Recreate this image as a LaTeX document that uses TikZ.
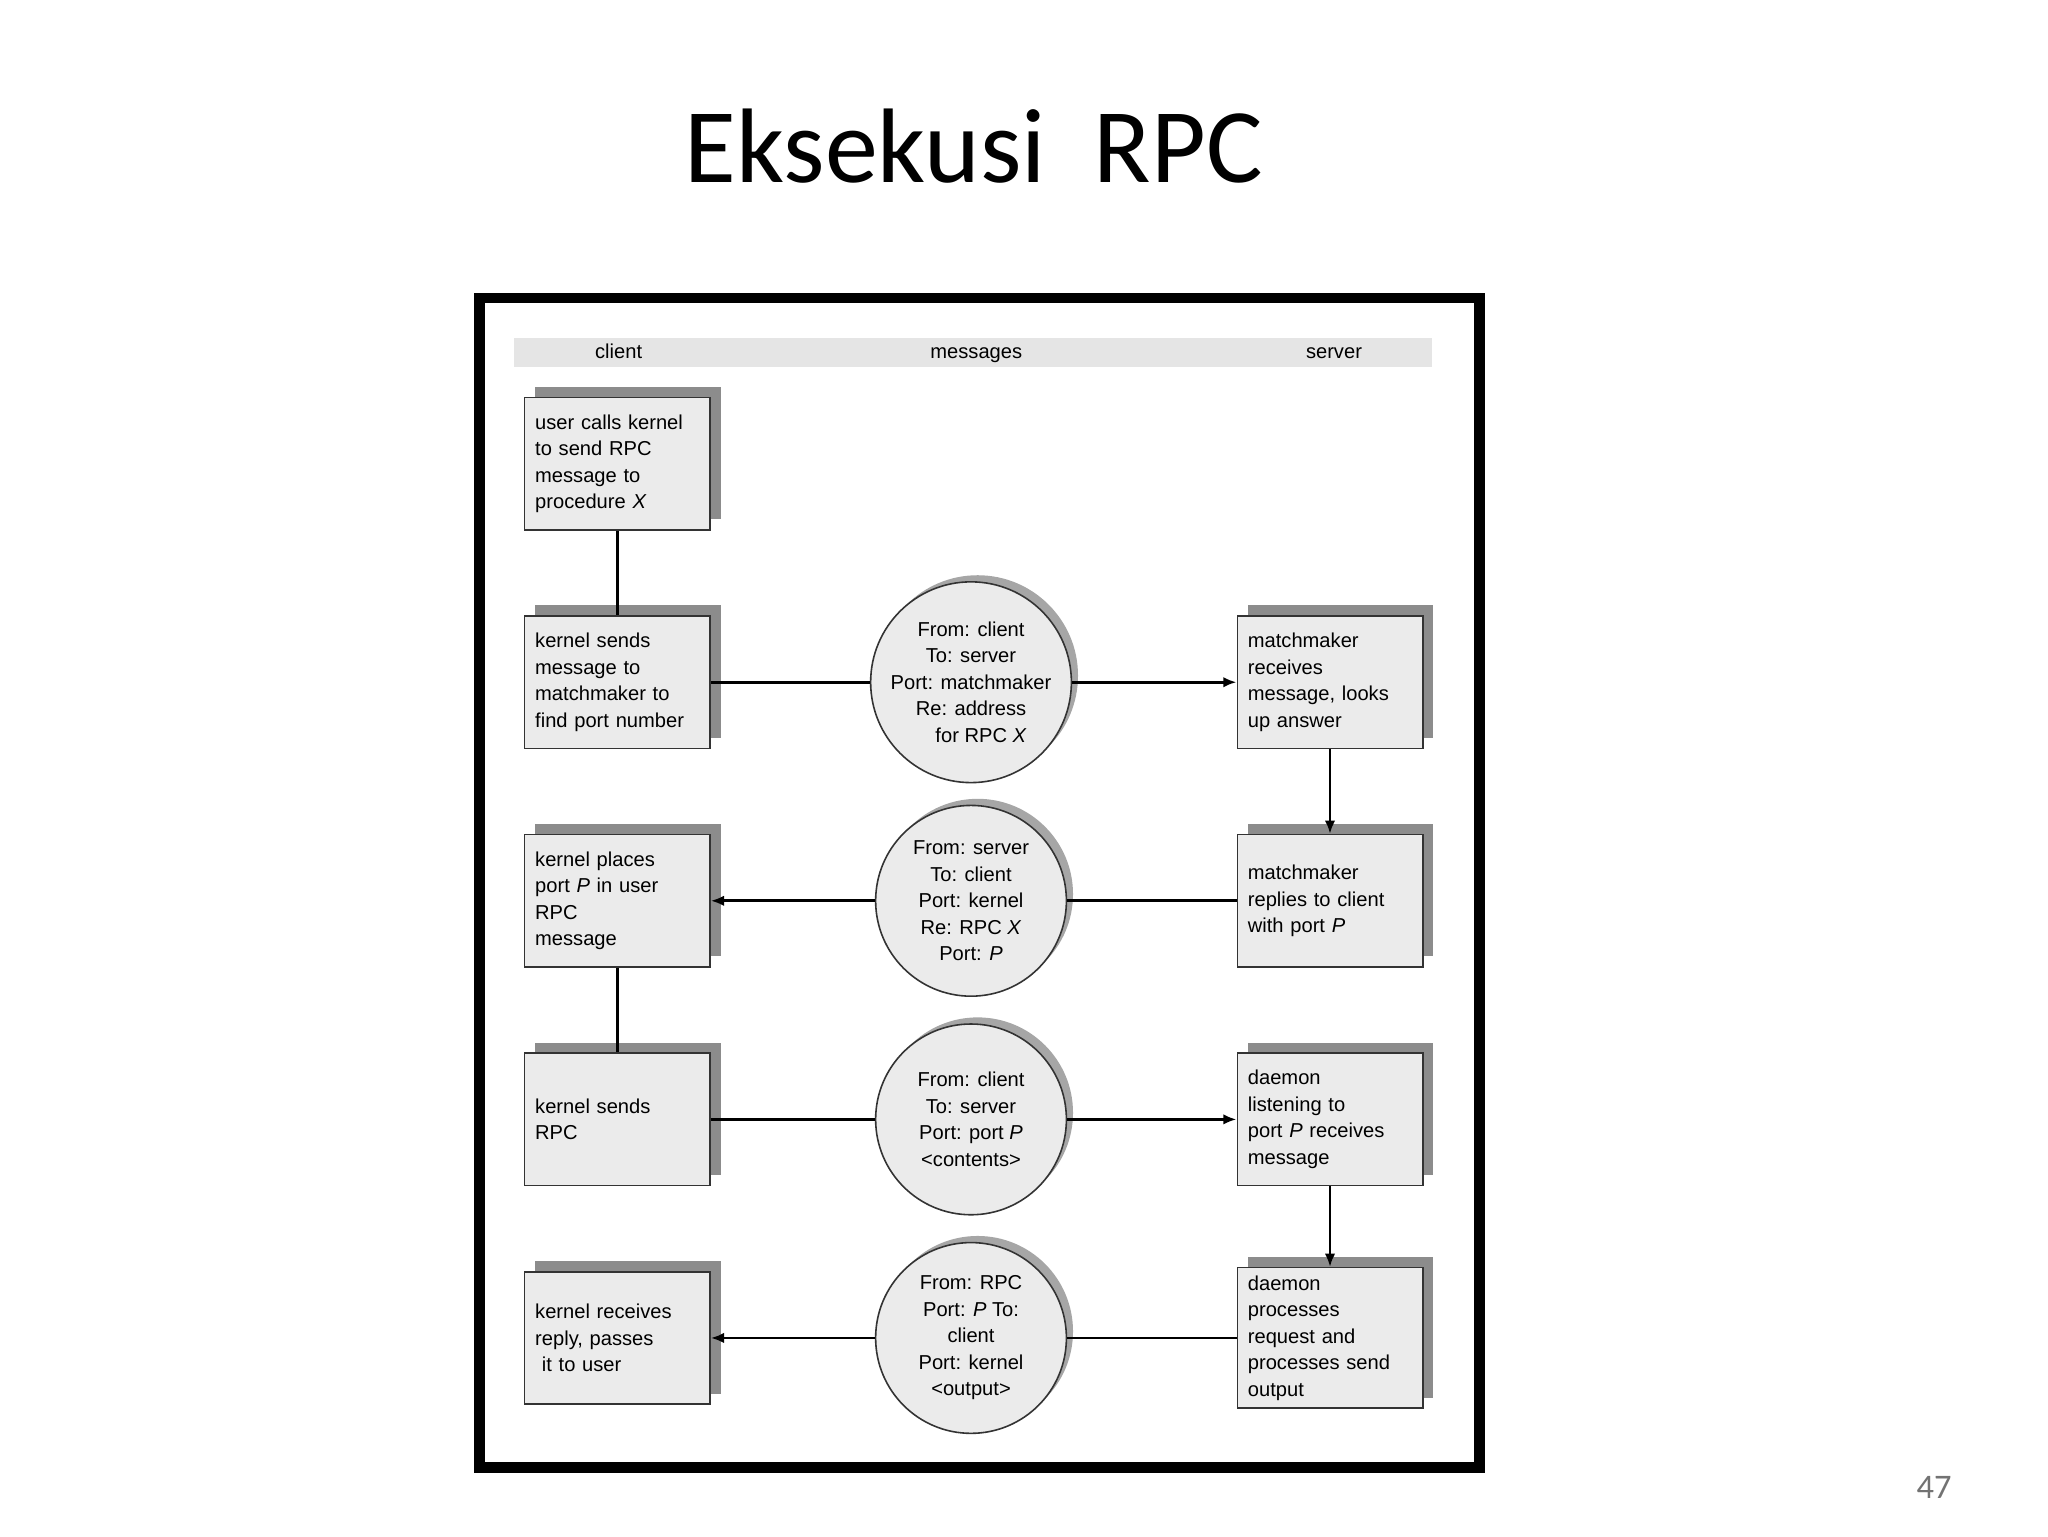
\documentclass[tikz,border=0pt]{standalone}
\usepackage{fontspec}
\setmainfont{Liberation Sans}
\newfontfamily\titlefont{Carlito}
\usetikzlibrary{shadows,arrows.meta}
\tikzset{
 bx/.style={draw=black!80,line width=0.6pt,fill=black!8,minimum width=70pt,minimum height=50pt,
   text width=62pt,align=left,font=\fontsize{7.6}{10}\selectfont,inner sep=3pt,
   copy shadow={shadow xshift=4pt,shadow yshift=4pt,fill=black!45,draw=none}},
 cir/.style={circle,draw=black!80,line width=0.6pt,fill=black!8,minimum size=72pt,inner sep=0pt,
   align=center,font=\fontsize{7.6}{10}\selectfont,
   copy shadow={shadow xshift=2.5pt,shadow yshift=2.5pt,fill=black!35,draw=none}},
 ln/.style={line width=1pt},
 ar/.style={line width=1pt,-{Latex[length=5pt,width=4pt]}},
 hd/.style={font=\fontsize{7.6}{10}\selectfont,text height=6pt,text depth=1.5pt}
}
\begin{document}
\begin{tikzpicture}[x=0.5pt,y=-0.5pt]
\useasboundingbox (0,0) rectangle (1546,1160);
\node[font=\titlefont\fontsize{40}{44}\selectfont] (title) at (735,110) {Eksekusi\ \ RPC};
\draw[line width=4pt] (362,225) rectangle (1117,1108);
\fill[black!10] (388,255) rectangle (1081,277);
\node[hd] (hc) at (467,266) {client};
\node[hd] (hm) at (737,266) {messages};
\node[hd] (hs) at (1007,266) {server};
\node[bx] (l1) at (466,350) {user calls kernel\\to send RPC\\message to\\procedure \textit{X}};
\node[bx] (l2) at (466,515) {kernel sends\\message to\\matchmaker to\\find port number};
\node[bx] (l3) at (466,680) {kernel places\\port \textit{P} in user\\RPC\\message};
\node[bx] (l4) at (466,845) {kernel sends\\RPC\\[8pt]};
\node[bx] (l5) at (466,1010) {kernel receives\\reply, passes\\\ it to user};
\node[bx] (r2) at (1004,515) {matchmaker\\receives\\message, looks\\up answer};
\node[bx] (r3) at (1004,680) {matchmaker\\replies to client\\with port \textit{P}};
\node[bx] (r4) at (1004,845) {daemon\\listening to\\port \textit{P} receives\\message};
\node[bx] (r5) at (1004,1010) {daemon\\processes\\request and\\processes send\\output};
\node[cir] (c2) at (733,515) {From: client\\To: server\\Port: matchmaker\\Re: address\\\quad for RPC \textit{X}};
\node[cir] (c3) at (733,680) {From: server\\To: client\\Port: kernel\\Re: RPC \textit{X}\\Port: \textit{P}};
\node[cir] (c4) at (733,845) {From: client\\To: server\\Port: port \textit{P}\\<contents>};
\node[cir] (c5) at (733,1010) {From: RPC\\Port: \textit{P} To:\\client\\Port: kernel\\<output>};
\draw[ln] (l1) -- (l2);
\draw[ln] (l3) -- (l4);
\draw[ln] (l2) -- (c2); \draw[ar] (c2) -- (r2);
\draw[ln] (r3) -- (c3); \draw[ar] (c3) -- (l3);
\draw[ln] (l4) -- (c4); \draw[ar] (c4) -- (r4);
\draw[ln] (r5) -- (c5); \draw[ar] (c5) -- (l5);
\draw[ar] (r2) -- (r3);
\draw[ar] (r4) -- (r5);
\node[font=\titlefont\fontsize{13}{15}\selectfont,text=black!55] (pg) at (1460,1123) {47};
\end{tikzpicture}
\end{document}
